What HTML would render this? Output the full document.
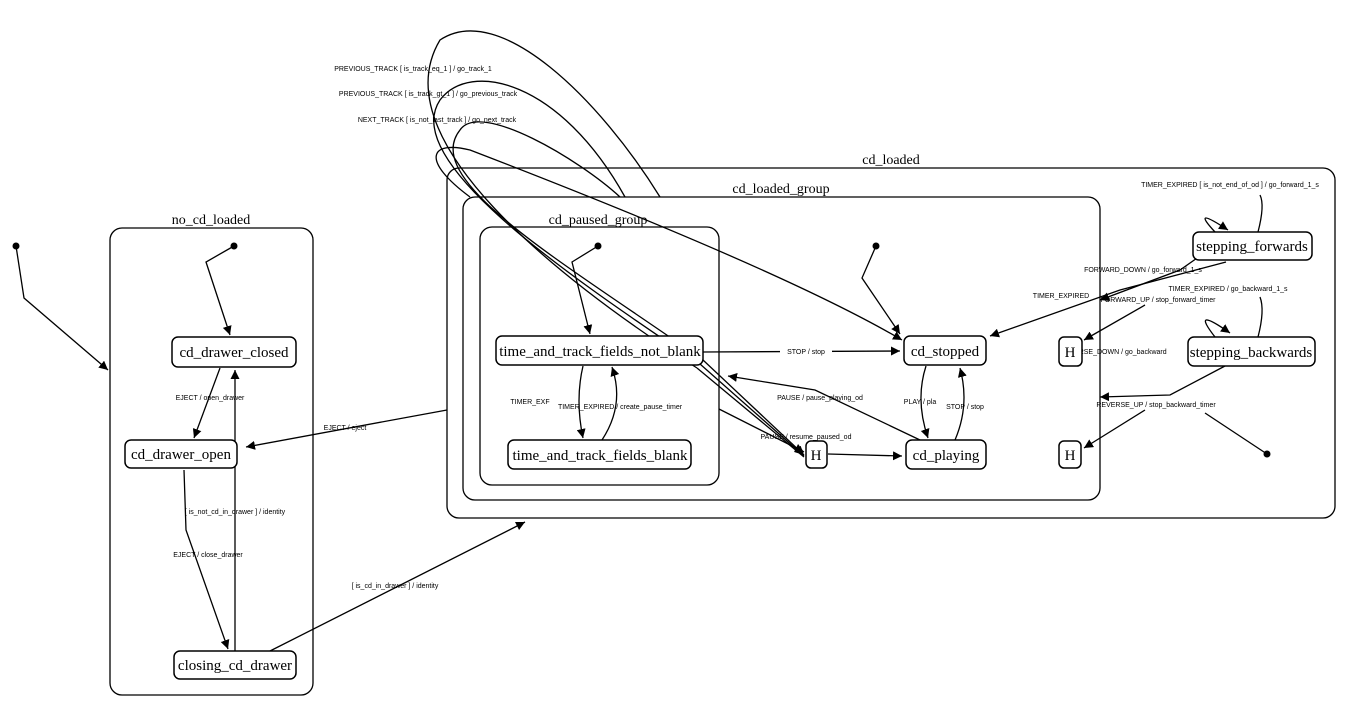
<!DOCTYPE html>
<html><head><meta charset="utf-8"><style>
body{margin:0;background:#fff}
svg{display:block}
.n{fill:#fff;stroke:#000;stroke-width:1.5}
.c{fill:none;stroke:#000;stroke-width:1.3}
.t{font-family:"Liberation Serif",serif;font-size:15px;text-anchor:middle}
.g{font-family:"Liberation Serif",serif;font-size:14px;text-anchor:middle}
.l{font-family:"Liberation Sans",sans-serif;font-size:7px;text-anchor:middle}
path,line{fill:none;stroke:#000;stroke-width:1.3}
</style></head><body>
<svg width="1369" height="718" viewBox="0 0 1369 718" xmlns="http://www.w3.org/2000/svg">
<defs><marker id="a" viewBox="0 0 10 10" refX="10" refY="5" markerWidth="9" markerHeight="9" orient="auto" markerUnits="userSpaceOnUse"><path d="M0,0L10,5L0,10z" style="fill:#000;stroke:none"/></marker></defs>

<rect class="c" x="110" y="228" width="203" height="467" rx="12"/>
<text class="g" x="211" y="224">no_cd_loaded</text>
<rect class="c" x="447" y="168" width="888" height="350" rx="12"/>
<text class="g" x="891" y="164">cd_loaded</text>
<rect class="c" x="463" y="197" width="637" height="303" rx="12"/>
<text class="g" x="781" y="193">cd_loaded_group</text>
<rect class="c" x="480" y="227" width="239" height="258" rx="12"/>
<text class="g" x="598" y="224">cd_paused_group</text>

<g fill="#000">
<circle cx="16" cy="246" r="3.5"/><circle cx="234" cy="246" r="3.5"/><circle cx="598" cy="246" r="3.5"/><circle cx="876" cy="246" r="3.5"/><circle cx="1267" cy="454" r="3.5"/>
</g>

<!-- edges -->
<path d="M16,246 L24,298 L108,370" marker-end="url(#a)"/>
<path d="M234,246 L206,262 L230,335" marker-end="url(#a)"/>
<path d="M220,368 L194,438" marker-end="url(#a)"/>
<text class="l" x="210" y="400">EJECT  / open_drawer</text>
<path d="M184,470 L186,530 L228,649" marker-end="url(#a)"/>
<text class="l" x="235" y="514">[ is_not_cd_in_drawer ] / identity</text>
<text class="l" x="208" y="557">EJECT  / close_drawer</text>
<path d="M235,651 L235,370" marker-end="url(#a)"/>
<path d="M270,651 L525,522" marker-end="url(#a)"/>
<text class="l" x="395" y="588">[ is_cd_in_drawer ] / identity</text>
<path d="M447,410 L246,447" marker-end="url(#a)"/>
<text class="l" x="345" y="430">EJECT  / eject</text>

<path d="M598,246 L572,262 L590,334" marker-end="url(#a)"/>
<path d="M583,366 Q575,400 583,438" marker-end="url(#a)"/>
<text class="l" x="530" y="404">TIMER_EXF</text>
<path d="M602,440 Q625,405 612,367" marker-end="url(#a)"/>
<text class="l" x="620" y="409">TIMER_EXPIRED  / create_pause_timer</text>
<path d="M703,352 L900,351" marker-end="url(#a)"/>
<rect x="780" y="346" width="52" height="10" fill="#fff" stroke="none"/>
<text class="l" x="806" y="354">STOP  / stop</text>
<path d="M926,366 Q915,400 928,438" marker-end="url(#a)"/>
<text class="l" x="920" y="404">PLAY  / pla</text>
<path d="M955,440 Q970,405 960,368" marker-end="url(#a)"/>
<text class="l" x="965" y="409">STOP  / stop</text>
<path d="M920,440 L815,390 L728,376" marker-end="url(#a)"/>
<text class="l" x="820" y="400">PAUSE  / pause_playing_od</text>
<path d="M703,360 L804,455" marker-end="url(#a)"/>
<path d="M700,364 L804,456"/>
<path d="M697,368 L804,457"/>
<path d="M719,409 L804,452" marker-end="url(#a)"/>
<text class="l" x="806" y="439">PAUSE  / resume_paused_od</text>
<path d="M828,454 L902,456" marker-end="url(#a)"/>
<path d="M876,246 L862,278 L900,334" marker-end="url(#a)"/>

<!-- big loops -->
<path d="M697,368 C560,280 380,140 440,40 C500,0 600,100 660,197"/>
<path d="M700,364 C560,270 400,160 440,100 C470,60 560,80 625,197"/>
<path d="M703,360 C560,260 420,180 460,130 C480,100 580,160 620,197"/>
<path d="M470,197 C420,160 430,140 470,150 C600,200 800,280 902,340" marker-end="url(#a)"/>
<text class="l" x="413" y="71">PREVIOUS_TRACK [ is_track_eq_1 ] / go_track_1</text>
<text class="l" x="428" y="96">PREVIOUS_TRACK [ is_track_gt_1 ] / go_previous_track</text>
<text class="l" x="437" y="122">NEXT_TRACK [ is_not_last_track ] / go_next_track</text>

<!-- right side -->
<path d="M1215,232 Q1190,205 1228,230" marker-end="url(#a)"/>
<path d="M1258,232 Q1265,205 1260,195"/>
<text class="l" x="1230" y="187">TIMER_EXPIRED [ is_not_end_of_od ] / go_forward_1_s</text>
<path d="M1215,337 Q1190,305 1230,333" marker-end="url(#a)"/>
<path d="M1258,337 Q1265,310 1260,297"/>
<text class="l" x="1228" y="291">TIMER_EXPIRED  / go_backward_1_s</text>
<path d="M1226,262 L1120,290 L990,336" marker-end="url(#a)"/>
<text class="l" x="1061" y="298">TIMER_EXPIRED</text>
<path d="M1200,256 L1180,270 L1100,300" marker-end="url(#a)"/>
<text class="l" x="1143" y="272">FORWARD_DOWN  / go_forward_1_s</text>
<path d="M1145,305 L1084,340" marker-end="url(#a)"/>
<text class="l" x="1158" y="302">FORWARD_UP  / stop_forward_timer</text>
<text class="l" x="1118" y="354">VERSE_DOWN  / go_backward</text>
<path d="M1225,366 L1170,395 L1100,397" marker-end="url(#a)"/>
<path d="M1145,410 L1084,448" marker-end="url(#a)"/>
<text class="l" x="1156" y="407">REVERSE_UP  / stop_backward_timer</text>
<path d="M1205,413 L1267,454"/>

<!-- nodes -->
<rect class="n" x="172" y="337" width="124" height="30" rx="6"/><text class="t" x="234" y="357">cd_drawer_closed</text>
<rect class="n" x="125" y="440" width="112" height="28" rx="6"/><text class="t" x="181" y="459">cd_drawer_open</text>
<rect class="n" x="174" y="651" width="122" height="28" rx="6"/><text class="t" x="235" y="670">closing_cd_drawer</text>
<rect class="n" x="496" y="336" width="207" height="29" rx="6"/><text class="t" x="600" y="356">time_and_track_fields_not_blank</text>
<rect class="n" x="508" y="440" width="183" height="29" rx="6"/><text class="t" x="600" y="460">time_and_track_fields_blank</text>
<rect class="n" x="904" y="336" width="82" height="29" rx="6"/><text class="t" x="945" y="356">cd_stopped</text>
<rect class="n" x="906" y="440" width="80" height="29" rx="6"/><text class="t" x="946" y="460">cd_playing</text>
<rect class="n" x="806" y="441" width="21" height="27" rx="5"/><text class="t" x="816" y="460">H</text>
<rect class="n" x="1059" y="337" width="23" height="29" rx="5"/><text class="t" x="1070" y="357">H</text>
<rect class="n" x="1059" y="441" width="22" height="27" rx="5"/><text class="t" x="1070" y="460">H</text>
<rect class="n" x="1193" y="232" width="119" height="28" rx="6"/><text class="t" x="1252" y="251">stepping_forwards</text>
<rect class="n" x="1188" y="337" width="127" height="29" rx="6"/><text class="t" x="1251" y="357">stepping_backwards</text>
</svg>
</body></html>
